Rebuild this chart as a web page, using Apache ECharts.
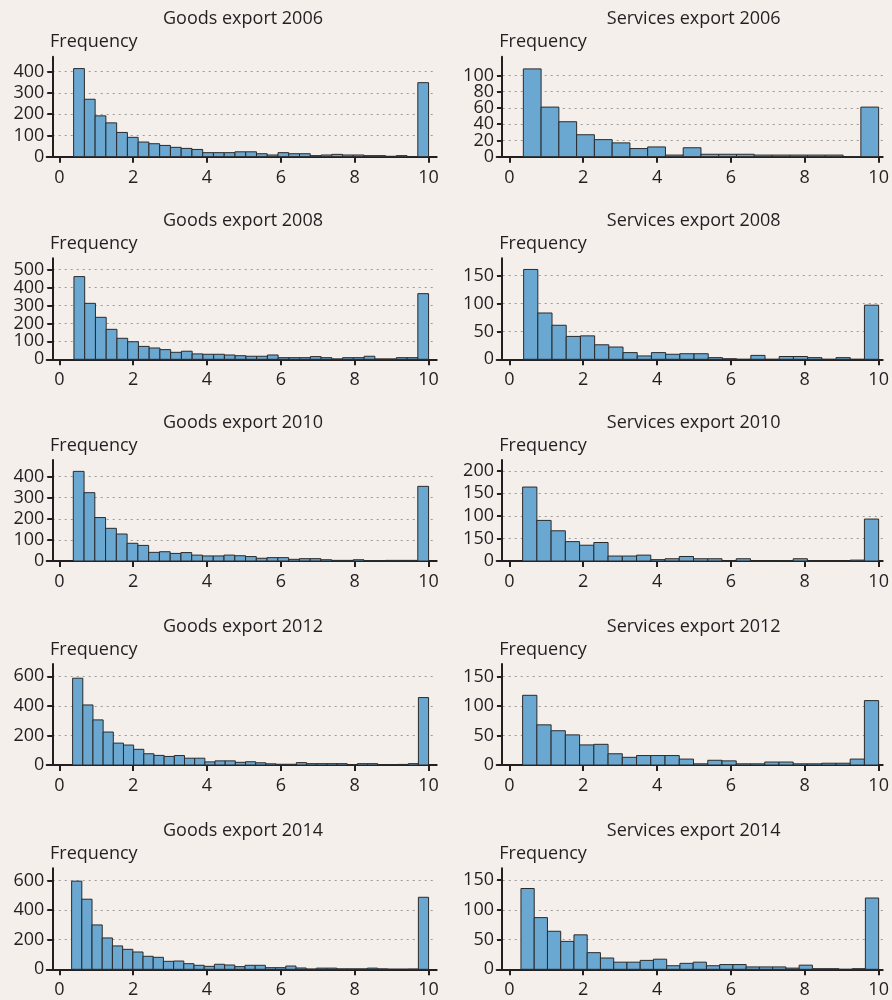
<!DOCTYPE html>
<html><head><meta charset="utf-8">
<script src="https://cdn.jsdelivr.net/npm/echarts@6/dist/echarts.min.js"></script>
<style>html,body{margin:0;padding:0;background:#f5efec}#c{width:892px;height:1000px}</style>
</head><body><div id="c"></div>
<script>
const panelTitles = ['Goods export 2006','Services export 2006','Goods export 2008','Services export 2008','Goods export 2010','Services export 2010','Goods export 2012','Services export 2012','Goods export 2014','Services export 2014'];
const yAxisName = 'Frequency';

const goods2006 = [414,270,192,159,114,91,69,61,53,44,39,34,19,19,19,23,23,14,8,19,14,14,5,8,11,8,8,5,5,2,5,1,348];
const services2006 = [108,61,43,27,21,17,10,12,2,11,3,3,3,2,2,2,2,2,0,61];
const goods2008 = [461,312,234,167,117,98,72,63,54,39,45,30,28,28,24,20,17,17,24,9,9,9,15,9,2,9,9,17,2,2,9,9,366];
const services2008 = [161,83,61,41,42,26,22,12,6,12,9,10,10,3,1,0,7,0,5,5,3,0,3,0,97];
const goods2010 = [425,324,206,155,128,84,74,41,44,36,40,28,24,24,28,25,21,13,16,16,8,11,11,6,3,3,6,2,2,3,3,3,354];
const services2010 = [164,90,67,43,35,41,11,11,13,3,5,10,5,5,0,5,0,0,1,5,0,0,0,2,93];
const goods2012 = [587,406,305,223,148,135,106,76,65,58,64,46,46,21,28,28,18,22,15,8,5,5,16,9,9,9,9,3,9,9,3,3,4,9,456];
const services2012 = [118,68,58,51,34,35,19,13,16,16,16,10,2,8,7,2,2,5,5,2,2,3,3,10,109];
const goods2014 = [596,474,300,212,158,135,117,88,81,54,56,38,27,20,34,29,18,27,27,11,11,22,9,2,8,8,3,3,3,8,3,1,1,2,487];
const services2014 = [136,87,64,47,58,28,19,12,12,15,17,6,10,12,6,8,8,4,4,4,2,7,1,1,0,1,120];
const panelCounts = [goods2006,services2006,goods2008,services2008,goods2010,services2010,goods2012,services2012,goods2014,services2014];

const binStarts = [0.388,0.38,0.397,0.388,0.379,0.361,0.361,0.361,0.334,0.316];
const binEnds = [10,10,10,10,10,10,10,10,10,10];

const xTickValues = [0,2,4,6,8,10];
const yMaxes = [470,123,563,181,479,224,683,171,683,170];
const yTickValues = [
  [0,100,200,300,400],[0,20,40,60,80,100],
  [0,100,200,300,400,500],[0,50,100,150],
  [0,100,200,300,400],[0,50,100,150,200],
  [0,200,400,600],[0,50,100,150],
  [0,200,400,600],[0,50,100,150]
];
const yTickLabels = [
  ['0','100','200','300','400'],['0','20','40','60','80','100'],
  ['0','100','200','300','400','500'],['0','50','100','150'],
  ['0','100','200','300','400'],['0','150','100','150','200'],
  ['0','200','400','600'],['0','50','100','150'],
  ['0','200','400','600'],['0','50','100','150']
];

// layout
const colLeft = [46.7, 496.7];
const colWidth = [390, 386];
const colXMin = [-0.341, -0.341];
const colXMax = [10.22, 10.11];
const colYAxisShift = [5.6, 5.3];
const colTitleX = [243, 693.7];
const colFreqX = [50, 499.3];
const rowTop = [56.7, 258.3, 460, 664, 868.3];
const rowBottom = [156.7, 359.3, 561, 765, 969.3];

const FONT = '"Open Sans", "Noto Sans", sans-serif';
const TXT = '#231f20';

const grids = [], xAxes = [], yAxes = [], series = [], graphics = [];
panelCounts.forEach((counts, i) => {
  const col = i % 2, row = Math.floor(i / 2);
  grids.push({left: colLeft[col], top: rowTop[row], width: colWidth[col], height: rowBottom[row] - rowTop[row],
    containLabel: false, outerBoundsMode: 'none'});
  xAxes.push({
    type: 'value', gridIndex: i, position: 'bottom', min: colXMin[col], max: colXMax[col],
    axisLine: {onZero: false, lineStyle: {color: TXT, width: 2}},
    axisTick: {customValues: xTickValues, length: 6, lineStyle: {color: TXT, width: 2}},
    axisLabel: {customValues: xTickValues, color: TXT, fontFamily: FONT, fontSize: 18, margin: 12,
      showMinLabel: true, showMaxLabel: true},
    splitLine: {show: false}
  });
  const labs = yTickLabels[i], vals = yTickValues[i];
  // two overlaid left y axes on the same scale (even / odd ticks) so that no tick label gets culled
  [0, 1].forEach(part => {
    const sub = vals.filter((v, k) => k % 2 === part);
    yAxes.push({
      type: 'value', gridIndex: i, position: 'left', min: 0, max: yMaxes[i], offset: -colYAxisShift[col],
      axisLine: {show: part === 0, onZero: false, lineStyle: {color: TXT, width: 2}},
      axisTick: {show: true, customValues: sub, length: 5, lineStyle: {color: TXT, width: 2}},
      axisLabel: {customValues: sub, color: TXT, fontFamily: FONT, fontSize: 18, margin: 8,
        showMinLabel: true, showMaxLabel: true,
        formatter: v => { const k = vals.indexOf(v); return k >= 0 ? labs[k] : ''; }},
      splitLine: {show: true, showMinLine: part !== 0, showMaxLine: true,
        lineStyle: {color: '#9a9a9a', width: 1, type: [2, 4]}}
    });
  });
  const n = counts.length;
  const w = (binEnds[i] - binStarts[i]) / n;
  const data = counts.map((c, k) => [binStarts[i] + k * w, binStarts[i] + (k + 1) * w, c]);
  series.push({
    type: 'custom', xAxisIndex: i, yAxisIndex: 2 * i, data: data,
    encode: {x: [0, 1], y: 2},
    renderItem: (params, api) => {
      const p0 = api.coord([api.value(0), api.value(2)]);
      const p1 = api.coord([api.value(1), 0]);
      return {type: 'rect', shape: {x: p0[0], y: p0[1], width: p1[0] - p0[0], height: p1[1] - p0[1]},
        style: {fill: '#6ba8d1', stroke: '#2a2a2a', lineWidth: 1}};
    }
  });
  graphics.push({type: 'text', x: colTitleX[col], y: rowTop[row] - 37.5,
    style: {text: panelTitles[i], font: '18px ' + FONT, fill: TXT, align: 'center', verticalAlign: 'middle'}});
  graphics.push({type: 'text', x: colFreqX[col], y: rowTop[row] - 14.5,
    style: {text: yAxisName, font: '18px ' + FONT, fill: TXT, align: 'left', verticalAlign: 'middle'}});
});

const chart = echarts.init(document.getElementById('c'), null, {renderer: 'canvas'});
chart.setOption({
  backgroundColor: '#f5efec',
  animation: false,
  grid: grids, xAxis: xAxes, yAxis: yAxes, series: series,
  graphic: graphics
});
</script></body></html>
